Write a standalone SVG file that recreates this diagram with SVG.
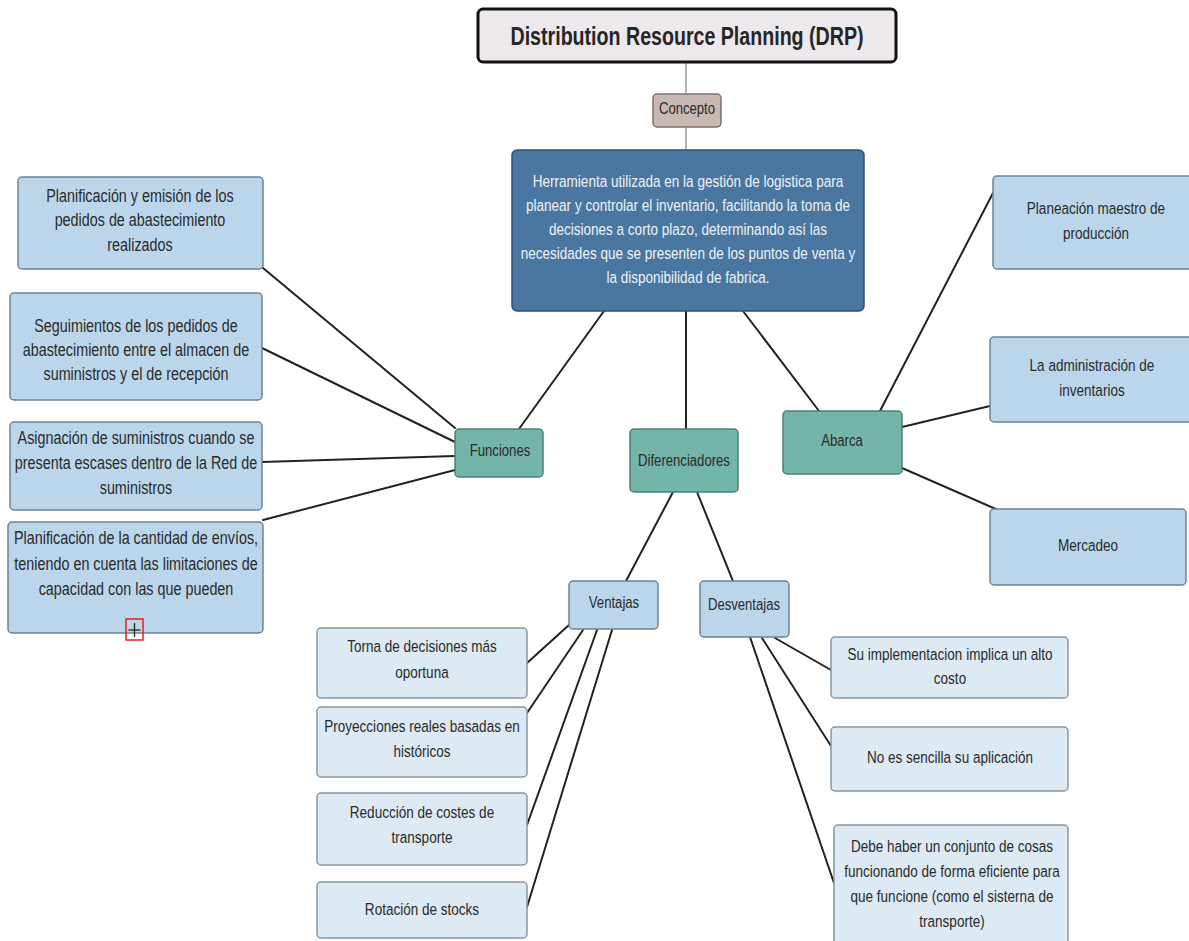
<svg xmlns="http://www.w3.org/2000/svg" width="1189" height="941" viewBox="0 0 1189 941">
<style>
text{font-family:"Liberation Sans",Arial,sans-serif;font-size:16.5px;fill:#2a2a2a;text-anchor:middle}
.title{font-size:25px;font-weight:bold;fill:#262626}
.wt{fill:#eef2f6;font-size:16.5px}
.sm{font-size:16px}
.big{font-size:17.5px}
.c line{stroke:#222;stroke-width:2;stroke-linecap:round}
.c line.g{stroke:#888;stroke-width:1.3}
.teal{fill:#74b5a9;stroke:#4f7f77;stroke-width:1.5}
.lb{fill:#bbd6ea;stroke:#6f8294;stroke-width:1.5}
.vlb{fill:#dde9f3;stroke:#8796a4;stroke-width:1.5}
</style>
<rect width="1189" height="941" fill="#ffffff"/>
<g class="c" id="connectors">
<line class="g" x1="686" y1="62" x2="686" y2="94"/>
<line class="g" x1="686" y1="127" x2="686" y2="150"/>
<line x1="604" y1="311" x2="519" y2="429"/>
<line x1="686" y1="311" x2="686" y2="429"/>
<line x1="743" y1="311" x2="819" y2="411"/>
<line x1="455" y1="428" x2="263" y2="268"/>
<line x1="455" y1="442" x2="262" y2="348"/>
<line x1="455" y1="456" x2="262" y2="462"/>
<line x1="455" y1="470" x2="263" y2="520"/>
<line x1="673" y1="492" x2="626" y2="581"/>
<line x1="697" y1="492" x2="733" y2="581"/>
<line x1="569" y1="625" x2="527" y2="663"/>
<line x1="583" y1="630" x2="527" y2="713"/>
<line x1="597" y1="630" x2="527" y2="825"/>
<line x1="612" y1="630" x2="527" y2="907"/>
<line x1="775" y1="638" x2="831" y2="670"/>
<line x1="762" y1="638" x2="831" y2="746"/>
<line x1="750" y1="637" x2="834" y2="883"/>
<line x1="880" y1="411" x2="993" y2="193"/>
<line x1="902" y1="427" x2="990" y2="406"/>
<line x1="902" y1="468" x2="998" y2="510"/>
</g>
<g id="title">
<rect x="478" y="9" width="418" height="53" rx="5" fill="#ece8eb" stroke="#111" stroke-width="3"/>
<text class="title" x="687" y="45" textLength="353" lengthAdjust="spacingAndGlyphs">Distribution Resource Planning (DRP)</text>
</g>
<g id="concepto">
<rect x="653" y="94" width="68" height="33" rx="4" fill="#c8b8b2" stroke="#7d706b" stroke-width="1.5"/>
<g transform="matrix(0.82 0 0 1 123.66 0)"><text class="sm" x="687" y="114">Concepto</text></g>
</g>
<g id="definicion">
<rect x="512" y="150" width="352" height="161" rx="5" fill="#4a77a1" stroke="#2f5276" stroke-width="1.5"/>
<g transform="matrix(0.82 0 0 1 123.84 0)">
<text class="wt" x="688" y="187">Herramienta utilizada en la gestión de logistica para</text>
<text class="wt" x="688" y="211">planear y controlar el inventario, facilitando la toma de</text>
<text class="wt" x="688" y="235">decisiones a corto plazo, determinando así las</text>
<text class="wt" x="688" y="259">necesidades que se presenten de los puntos de venta y</text>
<text class="wt" x="688" y="283">la disponibilidad de fabrica.</text>
</g>
</g>
<g id="funciones">
<rect x="455" y="429" width="88" height="48" rx="4" class="teal"/>
<g transform="matrix(0.82 0 0 1 90 0)"><text class="sm" x="500" y="456">Funciones</text></g>
</g>
<g id="diferenciadores">
<rect x="630" y="429" width="108" height="63" rx="4" class="teal"/>
<g transform="matrix(0.82 0 0 1 123.12 0)"><text class="sm" x="684" y="466">Diferenciadores</text></g>
</g>
<g id="abarca">
<rect x="783" y="411" width="119" height="63" rx="4" class="teal"/>
<g transform="matrix(0.82 0 0 1 151.56 0)"><text class="sm" x="842" y="446">Abarca</text></g>
</g>
<g id="f1">
<rect x="18" y="177" width="245" height="92" rx="4" class="lb"/>
<g transform="matrix(0.82 0 0 1 25.2 0)">
<text class="big" x="140" y="202">Planificación y emisión de los</text>
<text class="big" x="140" y="226">pedidos de abastecimiento</text>
<text class="big" x="140" y="251">realizados</text>
</g>
</g>
<g id="f2">
<rect x="10" y="293" width="252" height="107" rx="4" class="lb"/>
<g transform="matrix(0.82 0 0 1 24.48 0)">
<text class="big" x="136" y="332">Seguimientos de los pedidos de</text>
<text class="big" x="136" y="356">abastecimiento entre el almacen de</text>
<text class="big" x="136" y="380">suministros y el de recepción</text>
</g>
</g>
<g id="f3">
<rect x="10" y="422" width="252" height="88" rx="4" class="lb"/>
<g transform="matrix(0.82 0 0 1 24.48 0)">
<text class="big" x="136" y="444">Asignación de suministros cuando se</text>
<text class="big" x="136" y="469">presenta escases dentro de la Red de</text>
<text class="big" x="136" y="494">suministros</text>
</g>
</g>
<g id="f4">
<rect x="8" y="522" width="255" height="111" rx="4" class="lb"/>
<g transform="matrix(0.82 0 0 1 24.48 0)">
<text class="big" x="136" y="544">Planificación de la cantidad de envíos,</text>
<text class="big" x="136" y="570">teniendo en cuenta las limitaciones de</text>
<text class="big" x="136" y="595">capacidad con las que pueden</text>
</g>
<rect x="126" y="619" width="17" height="21" fill="none" stroke="#e02020" stroke-width="1.5"/>
<line x1="134.5" y1="623" x2="134.5" y2="637" stroke="#222" stroke-width="1.3"/>
<line x1="128.5" y1="630" x2="140.5" y2="630" stroke="#222" stroke-width="1.3"/>
</g>
<g id="a1">
<rect x="993" y="176" width="210" height="93" rx="4" class="lb"/>
<g transform="matrix(0.82 0 0 1 197.28 0)">
<text x="1096" y="214">Planeación maestro de</text>
<text x="1096" y="239">producción</text>
</g>
</g>
<g id="a2">
<rect x="990" y="337" width="210" height="85" rx="4" class="lb"/>
<g transform="matrix(0.82 0 0 1 196.56 0)">
<text x="1092" y="371">La administración de</text>
<text x="1092" y="396">inventarios</text>
</g>
</g>
<g id="a3">
<rect x="990" y="509" width="196" height="76" rx="4" class="lb"/>
<g transform="matrix(0.82 0 0 1 195.84 0)"><text x="1088" y="551">Mercadeo</text></g>
</g>
<g id="ventajas">
<rect x="569" y="581" width="89" height="48" rx="4" class="lb"/>
<g transform="matrix(0.82 0 0 1 110.52 0)"><text class="sm" x="614" y="608">Ventajas</text></g>
</g>
<g id="desventajas">
<rect x="700" y="581" width="89" height="56" rx="4" class="lb"/>
<g transform="matrix(0.82 0 0 1 133.92 0)"><text class="sm" x="744" y="610">Desventajas</text></g>
</g>
<g id="v1">
<rect x="317" y="628" width="210" height="70" rx="4" class="vlb"/>
<g transform="matrix(0.82 0 0 1 75.96 0)">
<text x="422" y="652">Torna de decisiones más</text>
<text x="422" y="678">oportuna</text>
</g>
</g>
<g id="v2">
<rect x="317" y="707" width="210" height="70" rx="4" class="vlb"/>
<g transform="matrix(0.82 0 0 1 75.96 0)">
<text x="422" y="732">Proyecciones reales basadas en</text>
<text x="422" y="757">históricos</text>
</g>
</g>
<g id="v3">
<rect x="317" y="793" width="210" height="72" rx="4" class="vlb"/>
<g transform="matrix(0.82 0 0 1 75.96 0)">
<text x="422" y="818">Reducción de costes de</text>
<text x="422" y="843">transporte</text>
</g>
</g>
<g id="v4">
<rect x="317" y="882" width="210" height="56" rx="4" class="vlb"/>
<g transform="matrix(0.82 0 0 1 75.96 0)"><text x="422" y="915">Rotación de stocks</text></g>
</g>
<g id="d1">
<rect x="831" y="637" width="237" height="61" rx="4" class="vlb"/>
<g transform="matrix(0.82 0 0 1 171 0)">
<text x="950" y="660">Su implementacion implica un alto</text>
<text x="950" y="684">costo</text>
</g>
</g>
<g id="d2">
<rect x="831" y="727" width="237" height="64" rx="4" class="vlb"/>
<g transform="matrix(0.82 0 0 1 171 0)"><text x="950" y="763">No es sencilla su aplicación</text></g>
</g>
<g id="d3">
<rect x="834" y="825" width="234" height="120" rx="4" class="vlb"/>
<g transform="matrix(0.82 0 0 1 171.36 0)">
<text x="952" y="852">Debe haber un conjunto de cosas</text>
<text x="952" y="877">funcionando de forma eficiente para</text>
<text x="952" y="902">que funcione (como el sisterna de</text>
<text x="952" y="927">transporte)</text>
</g>
</g>
</svg>
